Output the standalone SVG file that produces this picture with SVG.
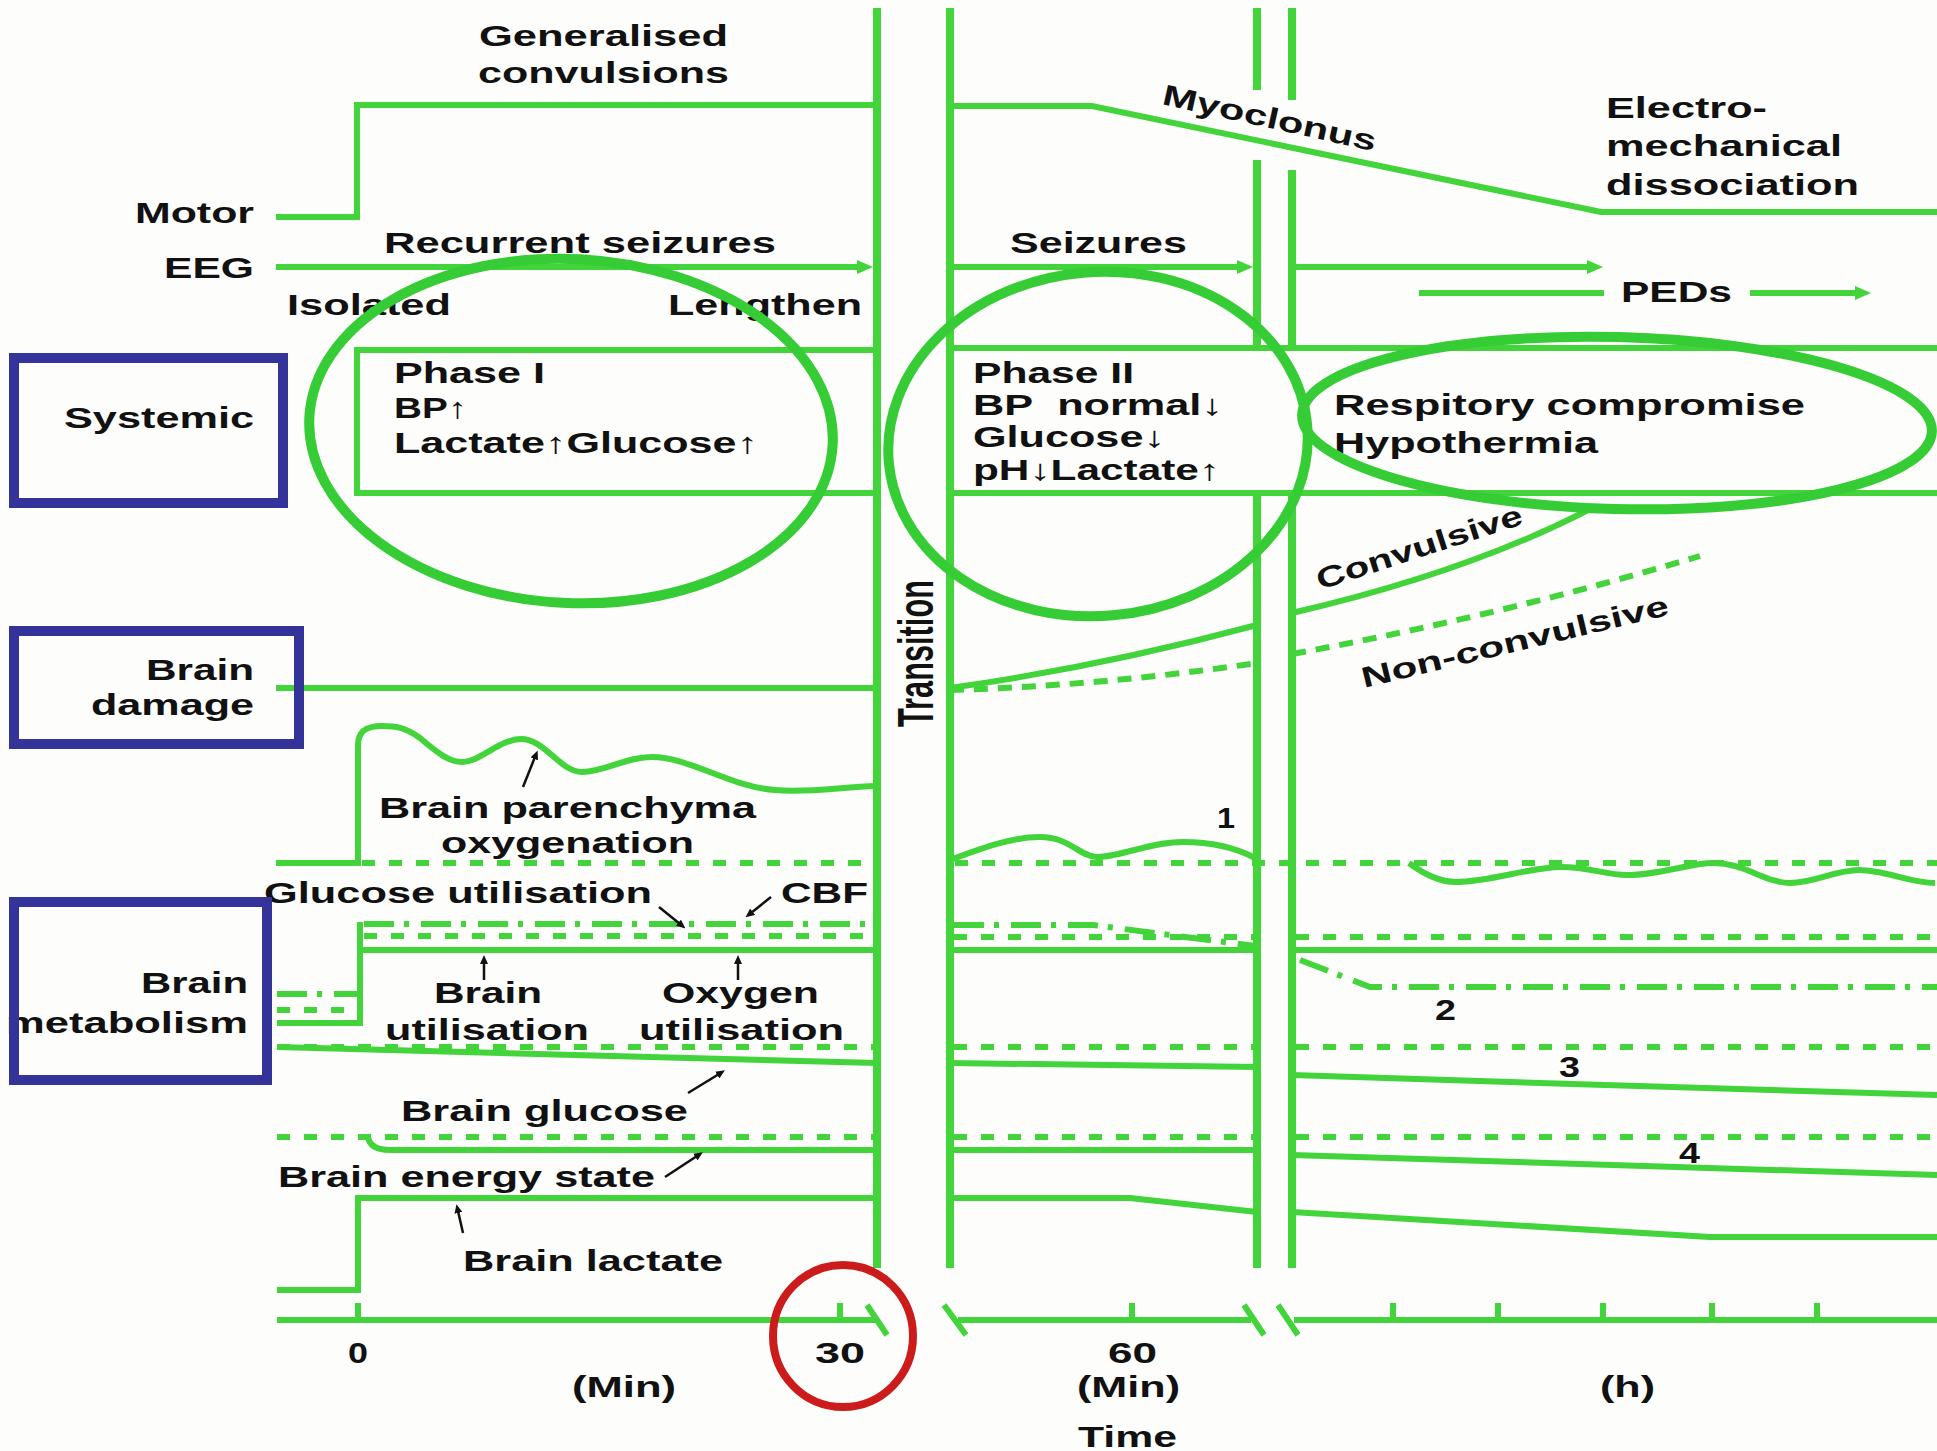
<svg xmlns="http://www.w3.org/2000/svg" width="1937" height="1451" viewBox="0 0 1937 1451">
<defs>
<style>
.g{stroke:#42d43a;fill:none;stroke-width:6}
.v{stroke-width:8}
.ds{stroke-dasharray:13 14}
.nd{stroke-dasharray:14 10}
.dd{stroke-dasharray:30 10 5 12}
.t{font-family:"Liberation Sans",Arial,sans-serif;font-weight:bold;font-size:29px;fill:#111}
.hl{stroke:#36cc36;stroke-width:10;fill:none}
.box{stroke:#333399;stroke-width:10;fill:none}
.pt{stroke:#111;stroke-width:2.5;fill:none}
</style>
<marker id="ga" markerUnits="userSpaceOnUse" markerWidth="16" markerHeight="14" refX="3" refY="7" orient="auto"><path d="M0,0 L16,7 L0,14 z" fill="#42d43a"/></marker>
<marker id="ba" markerUnits="userSpaceOnUse" markerWidth="9" markerHeight="8" refX="2" refY="4" orient="auto"><path d="M0,0 L9,4 L0,8 z" fill="#111"/></marker>
</defs>
<rect x="0" y="0" width="1937" height="1451" fill="#fdfdfb"/>

<g id="connectors">
<!-- vertical dividers -->
<path class="g v" d="M877,8 V1268 M950,8 V1268"/>
<path class="g v" d="M1257,8 V90 M1257,160 V348 M1257,493 V1268"/>
<path class="g v" d="M1292,8 V100 M1292,170 V348 M1292,493 V1268"/>
<!-- motor -->
<path class="g" d="M276,217 H357 V105 H877"/>
<path class="g" d="M950,106 H1092 L1601,212 H1937"/>
<!-- EEG -->
<path class="g" d="M276,267 H860" marker-end="url(#ga)"/>
<path class="g" d="M950,267 H1240" marker-end="url(#ga)"/>
<path class="g" d="M1292,267 H1590" marker-end="url(#ga)"/>
<path class="g" d="M1419,293 H1604"/>
<path class="g" d="M1750,293 H1858" marker-end="url(#ga)"/>
<!-- systemic row -->
<path class="g" d="M357,350 H877 M357,493 H877 M357,347 V496"/>
<path class="g" d="M950,348 H1937 M950,493 H1937"/>
<!-- brain damage -->
<path class="g" d="M276,688 H877"/>
<path class="g" d="M950,688 Q1100,667 1257,625"/>
<path class="g" d="M1292,613 Q1470,572 1596,506"/>
<path class="g nd" d="M950,690 Q1100,686 1257,663"/>
<path class="g nd" d="M1292,654 Q1500,616 1700,556"/>
<!-- oxygenation -->
<path class="g" d="M276,863 H358 V745 C358,730 368,726 382,726 C395,726 405,727 420,738 C440,755 450,762 462,762 C480,762 500,739 521,739 C545,739 560,772 582,772 C605,772 625,757 652,757 C690,757 730,787 775,790 C810,793 840,787 877,786"/>
<path class="g ds" d="M362,863 H877"/>
<path class="g ds" d="M955,863 H1937"/>
<path class="g" d="M950,860 C990,845 1015,837 1040,837 C1070,837 1080,857 1097,857 C1120,857 1150,842 1183,842 C1215,842 1240,850 1255,858"/>
<path class="g" d="M1409,863 C1425,875 1440,882 1456,882 C1490,882 1530,867 1561,867 C1590,867 1605,875 1627,875 C1660,875 1690,863 1713,863 C1745,863 1765,883 1790,883 C1815,883 1835,870 1859,870 C1885,870 1910,883 1935,883"/>
<!-- glucose utilisation / CBF -->
<path class="g dd" d="M277,994 H358"/>
<path class="g ds" d="M277,1010 H358"/>
<path class="g" d="M277,1023 H360 V922"/>
<path class="g dd" d="M364,924 H877"/>
<path class="g ds" d="M364,936 H877"/>
<path class="g" d="M360,950 H877"/>
<path class="g dd" d="M954,925 H1093 L1255,946"/>
<path class="g ds" d="M954,937 H1257"/>
<path class="g" d="M950,950 H1257"/>
<path class="g ds" d="M1296,937 H1937"/>
<path class="g" d="M1292,950 H1937"/>
<path class="g dd" d="M1300,960 L1370,987 H1937"/>
<!-- line 3 brain glucose -->
<path class="g ds" d="M277,1047 H877 M954,1047 H1257 M1296,1047 H1937"/>
<path class="g" d="M277,1047 L877,1063 M950,1063 L1257,1067 M1292,1075 L1605,1085 L1937,1095"/>
<!-- line 4 energy -->
<path class="g ds" d="M277,1137 H877 M954,1137 H1257 M1296,1137 H1937"/>
<path class="g" d="M368,1137 Q370,1150 390,1150 H877 M950,1150 H1257 M1292,1155 L1937,1175"/>
<!-- lactate -->
<path class="g" d="M277,1290 H358 V1198 H877 M950,1198 H1130 L1257,1212 M1292,1212 L1710,1237 H1937"/>
<!-- axis -->
<path class="g" d="M277,1320 H876 M958,1320 H1251 M1294,1320 H1937"/>
<path class="g" d="M867,1305 L887,1335 M944,1305 L966,1335 M1244,1305 L1264,1335 M1278,1305 L1298,1335"/>
<path class="g" d="M358,1303 V1320 M840,1303 V1320 M1132,1303 V1320 M1393,1303 V1320 M1498,1303 V1320 M1603,1303 V1320 M1712,1303 V1320 M1817,1303 V1320"/>
<!-- pointers -->
<path class="pt" d="M523,787 L535,757" marker-end="url(#ba)"/>
<path class="pt" d="M659,907 L680,924" marker-end="url(#ba)"/>
<path class="pt" d="M771,897 L751,913" marker-end="url(#ba)"/>
<path class="pt" d="M484,980 V962" marker-end="url(#ba)"/>
<path class="pt" d="M738,980 V962" marker-end="url(#ba)"/>
<path class="pt" d="M688,1093 L719,1074" marker-end="url(#ba)"/>
<path class="pt" d="M665,1177 L697,1156" marker-end="url(#ba)"/>
<path class="pt" d="M463,1233 L458,1211" marker-end="url(#ba)"/>
</g>

<g id="labels">
<text class="t" x="479" y="46" textLength="249" lengthAdjust="spacingAndGlyphs">Generalised</text>
<text class="t" x="478" y="83" textLength="251" lengthAdjust="spacingAndGlyphs">convulsions</text>
<text class="t" x="135" y="223" textLength="119" lengthAdjust="spacingAndGlyphs">Motor</text>
<text class="t" x="164" y="278" textLength="90" lengthAdjust="spacingAndGlyphs">EEG</text>
<text class="t" x="384" y="253" textLength="392" lengthAdjust="spacingAndGlyphs">Recurrent seizures</text>
<text class="t" x="287" y="315" textLength="164" lengthAdjust="spacingAndGlyphs">Isolated</text>
<text class="t" x="668" y="315" textLength="194" lengthAdjust="spacingAndGlyphs">Lengthen</text>
<text class="t" x="394" y="383" textLength="151" lengthAdjust="spacingAndGlyphs">Phase I</text>
<text class="t" x="394" y="418" textLength="73" lengthAdjust="spacingAndGlyphs">BP↑</text>
<text class="t" x="394" y="453" textLength="364" lengthAdjust="spacingAndGlyphs">Lactate↑Glucose↑</text>
<text class="t" transform="translate(1161,104) rotate(12.5)" textLength="218" lengthAdjust="spacingAndGlyphs">Myoclonus</text>
<text class="t" x="1606" y="118" textLength="161" lengthAdjust="spacingAndGlyphs">Electro-</text>
<text class="t" x="1606" y="156" textLength="236" lengthAdjust="spacingAndGlyphs">mechanical</text>
<text class="t" x="1606" y="195" textLength="253" lengthAdjust="spacingAndGlyphs">dissociation</text>
<text class="t" x="1010" y="253" textLength="177" lengthAdjust="spacingAndGlyphs">Seizures</text>
<text class="t" x="1621" y="302" textLength="111" lengthAdjust="spacingAndGlyphs">PEDs</text>
<text class="t" x="973" y="383" textLength="161" lengthAdjust="spacingAndGlyphs">Phase II</text>
<text class="t" x="973" y="415" textLength="250" lengthAdjust="spacingAndGlyphs">BP&#160; normal↓</text>
<text class="t" x="973" y="447" textLength="192" lengthAdjust="spacingAndGlyphs">Glucose↓</text>
<text class="t" x="973" y="480" textLength="247" lengthAdjust="spacingAndGlyphs">pH↓Lactate↑</text>
<text class="t" x="1334" y="415" textLength="471" lengthAdjust="spacingAndGlyphs">Respitory compromise</text>
<text class="t" x="1334" y="453" textLength="264" lengthAdjust="spacingAndGlyphs">Hypothermia</text>
<text class="t" transform="translate(1320,590) rotate(-18)" textLength="215" lengthAdjust="spacingAndGlyphs">Convulsive</text>
<text class="t" transform="translate(1364,688) rotate(-13.5)" textLength="315" lengthAdjust="spacingAndGlyphs">Non-convulsive</text>
<text class="t" transform="translate(933,727) rotate(-90) scale(1,1.75)" textLength="147" lengthAdjust="spacingAndGlyphs">Transition</text>
<text class="t" x="379" y="818" textLength="377" lengthAdjust="spacingAndGlyphs">Brain parenchyma</text>
<text class="t" x="441" y="853" textLength="253" lengthAdjust="spacingAndGlyphs">oxygenation</text>
<text class="t" x="264" y="903" textLength="388" lengthAdjust="spacingAndGlyphs">Glucose utilisation</text>
<text class="t" x="781" y="903" textLength="87" lengthAdjust="spacingAndGlyphs">CBF</text>
<text class="t" x="434" y="1003" textLength="108" lengthAdjust="spacingAndGlyphs">Brain</text>
<text class="t" x="385" y="1040" textLength="204" lengthAdjust="spacingAndGlyphs">utilisation</text>
<text class="t" x="662" y="1003" textLength="157" lengthAdjust="spacingAndGlyphs">Oxygen</text>
<text class="t" x="639" y="1040" textLength="205" lengthAdjust="spacingAndGlyphs">utilisation</text>
<text class="t" x="401" y="1121" textLength="287" lengthAdjust="spacingAndGlyphs">Brain glucose</text>
<text class="t" x="278" y="1187" textLength="377" lengthAdjust="spacingAndGlyphs">Brain energy state</text>
<text class="t" x="463" y="1271" textLength="260" lengthAdjust="spacingAndGlyphs">Brain lactate</text>
<text class="t" x="1217" y="828" textLength="18" lengthAdjust="spacingAndGlyphs">1</text>
<text class="t" x="1435" y="1020" textLength="21" lengthAdjust="spacingAndGlyphs">2</text>
<text class="t" x="1559" y="1077" textLength="21" lengthAdjust="spacingAndGlyphs">3</text>
<text class="t" x="1679" y="1163" textLength="21" lengthAdjust="spacingAndGlyphs">4</text>
<text class="t" x="348" y="1363" textLength="20" lengthAdjust="spacingAndGlyphs">0</text>
<text class="t" x="815" y="1363" textLength="50" lengthAdjust="spacingAndGlyphs">30</text>
<text class="t" x="1108" y="1363" textLength="49" lengthAdjust="spacingAndGlyphs">60</text>
<text class="t" x="572" y="1397" textLength="104" lengthAdjust="spacingAndGlyphs">(Min)</text>
<text class="t" x="1077" y="1397" textLength="103" lengthAdjust="spacingAndGlyphs">(Min)</text>
<text class="t" x="1600" y="1397" textLength="55" lengthAdjust="spacingAndGlyphs">(h)</text>
<text class="t" x="1078" y="1447" textLength="99" lengthAdjust="spacingAndGlyphs">Time</text>
</g>

<g id="systemic">
<text class="t" x="64" y="428" textLength="190" lengthAdjust="spacingAndGlyphs">Systemic</text>
<rect class="box" x="14" y="358" width="269" height="145"/>
</g>
<g id="brain-damage">
<text class="t" x="146" y="680" textLength="108" lengthAdjust="spacingAndGlyphs">Brain</text>
<text class="t" x="91" y="715" textLength="163" lengthAdjust="spacingAndGlyphs">damage</text>
<rect class="box" x="14" y="631" width="285" height="113"/>
</g>
<g id="brain-metabolism">
<text class="t" x="141" y="993" textLength="107" lengthAdjust="spacingAndGlyphs">Brain</text>
<text class="t" x="6" y="1033" textLength="242" lengthAdjust="spacingAndGlyphs">metabolism</text>
<rect class="box" x="14" y="902" width="253" height="178"/>
</g>

<g id="highlights">
<ellipse class="hl" cx="571" cy="431" rx="262" ry="172" transform="rotate(3 571 431)"/>
<ellipse class="hl" cx="1098" cy="444" rx="210" ry="172" transform="rotate(-5 1098 444)"/>
<ellipse class="hl" cx="1617" cy="423" rx="315" ry="86" transform="rotate(1.5 1617 423)"/>
<ellipse cx="843" cy="1336" rx="70" ry="71" fill="none" stroke="#cc1b1b" stroke-width="8"/>
</g>
</svg>
